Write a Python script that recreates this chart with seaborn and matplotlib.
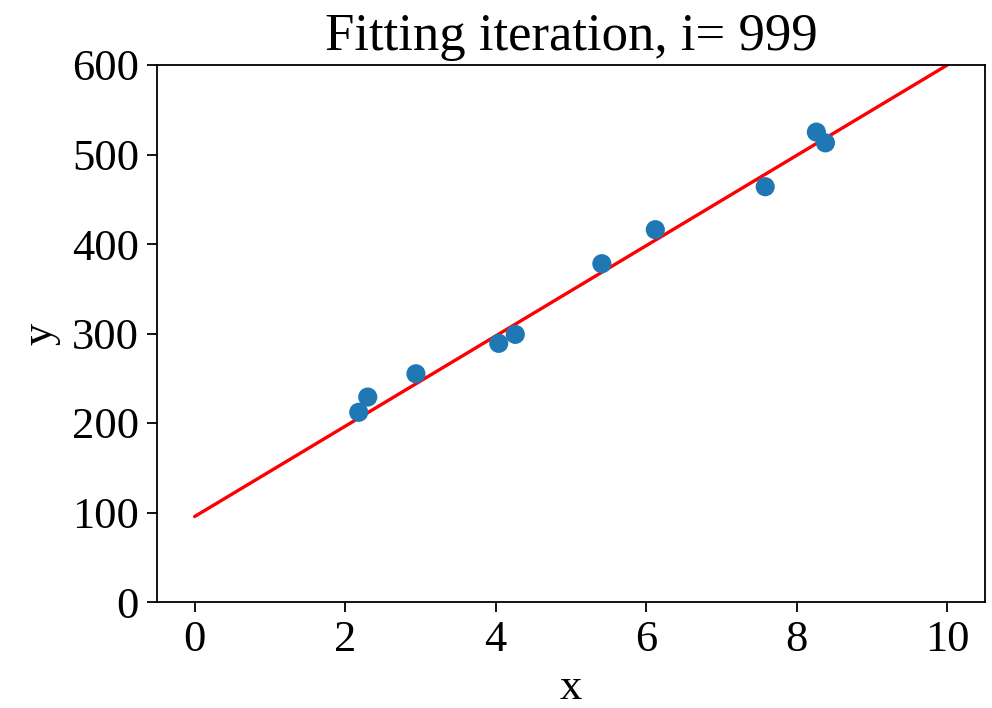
import matplotlib
matplotlib.use("Agg")
import matplotlib.pyplot as plt
import seaborn as sns
import numpy as np
import pandas as pd

# Data
x_points = [2.18, 2.30, 2.94, 4.04, 4.26, 5.41, 6.12, 7.58, 8.26, 8.38]
y_points = [212, 229, 255, 289, 299, 378, 416, 464, 525, 513]
line_x = [0, 10]
line_y = [95.5, 600]
title_text = "Fitting iteration, i= 999"

sns.set_style("ticks")
plt.rcParams['font.family'] = ['Liberation Serif', 'DejaVu Serif']
plt.rcParams['text.color'] = 'black'
plt.rcParams['axes.labelcolor'] = 'black'

fig = plt.figure(figsize=(9.92, 7.08), dpi=100)
ax = fig.add_axes([157/992, 1-602/708, (985-157)/992, (602-65)/708])

sns.lineplot(x=line_x, y=line_y, color='red', linewidth=2.4, ax=ax, zorder=1)
sns.scatterplot(x=x_points, y=y_points, s=190, color='#1f77b4', edgecolor='none',
                linewidth=0, ax=ax, zorder=2)

ax.set_xlim(-0.5, 10.5)
ax.set_ylim(0, 600)
ax.set_xticks([0, 2, 4, 6, 8, 10])
ax.set_yticks([0, 100, 200, 300, 400, 500, 600])
ax.tick_params(labelsize=32, length=7, width=1.3, colors='black', direction='out', pad=6)
for sp in ax.spines.values():
    sp.set_linewidth(1.3)
    sp.set_color('black')
ax.set_xlabel('x', fontsize=32, color='black', labelpad=6)
ax.set_ylabel('y', fontsize=32, color='black', labelpad=8)
ax.set_title(title_text, fontsize=38, pad=11, color='black')

fig.savefig('out.png', dpi=100)
